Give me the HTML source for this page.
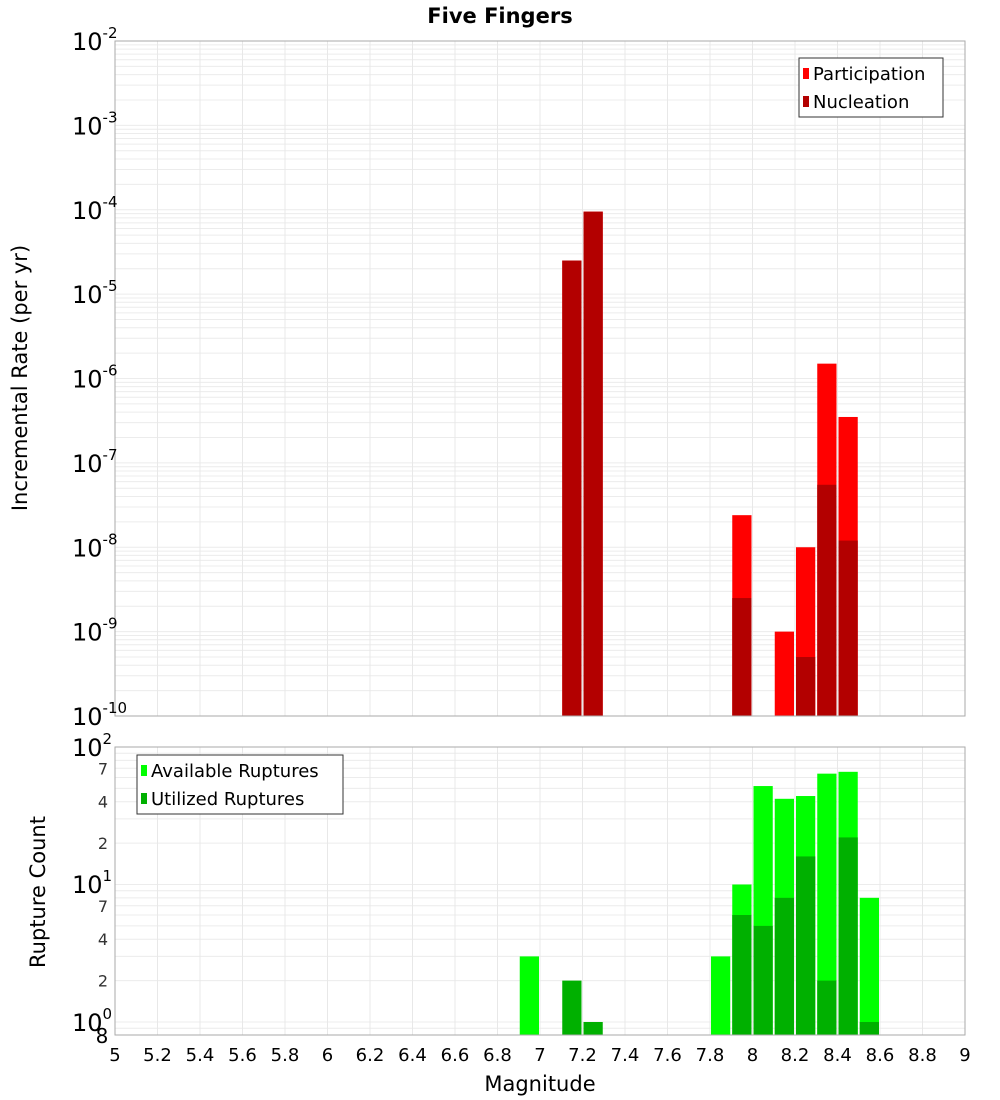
<!DOCTYPE html>
<html><head><meta charset="utf-8"><style>
body{margin:0;background:#fff;}
svg{display:block;font-family:"DejaVu Sans","Liberation Sans",sans-serif;}
</style></head><body>
<svg id="c" width="1000" height="1100" xmlns="http://www.w3.org/2000/svg">
<text x="500" y="23" text-anchor="middle" font-size="21" font-weight="bold">Five Fingers</text>
<g id="top"></g>
<g id="bot"></g>
<text x="540" y="1091" text-anchor="middle" font-size="21">Magnitude</text>
<text transform="translate(27,378) rotate(-90)" text-anchor="middle" font-size="21">Incremental Rate (per yr)</text>
<text transform="translate(45,892) rotate(-90)" text-anchor="middle" font-size="21">Rupture Count</text>
</svg>
<script>
const mags=[6.9,7.1,7.2,7.8,7.9,8.0,8.1,8.2,8.3,8.4,8.5];
const topMags=[7.1,7.2,7.9,8.1,8.2,8.3,8.4];
const participation=[2.5e-5,9.5e-5,2.4e-8,1e-9,1e-8,1.5e-6,3.5e-7];
const nucleation=[2.5e-5,9.5e-5,2.5e-9,0,5e-10,5.5e-8,1.2e-8];
const available=[3,0,0,3,10,52,42,44,64,66,8];
const utilized=[0,2,1,0,6,5,8,16,2,22,1];
const xTicks=[5,5.2,5.4,5.6,5.8,6,6.2,6.4,6.6,6.8,7,7.2,7.4,7.6,7.8,8,8.2,8.4,8.6,8.8,9];
const topExps=[-2,-3,-4,-5,-6,-7,-8,-9,-10];

const NS="http://www.w3.org/2000/svg";
const svg=document.getElementById('c');
const gT=document.getElementById('top'), gB=document.getElementById('bot');
function mk(tag,attrs,parent){const e=document.createElementNS(NS,tag);for(const k in attrs)e.setAttribute(k,attrs[k]);parent.appendChild(e);return e;}
const X0=115,X1=965;
const x=m=>X0+(m-5)/4*(X1-X0);
const TY0=41,TY1=716;
const yT=v=>TY0+(-2-Math.log10(v))/8*(TY1-TY0);
const BY0=747,BY1=1035;
const yB=v=>1022-Math.log10(v)*137.5;

// top grid
for(let e=-10;e<-2;e++)for(let k=1;k<10;k++){const yy=yT(k*Math.pow(10,e));const l=mk('line',{x1:X0,x2:X1,y1:yy,y2:yy,stroke:'#ececec','stroke-width':1},gT);

}
for(const t of xTicks){const l=mk('line',{x1:x(t),x2:x(t),y1:TY0,y2:TY1,stroke:'#e8e8e8'},gT);

}
// bottom grid
for(let e=-1;e<2;e++)for(let k=1;k<10;k++){const v=k*Math.pow(10,e);const yy=yB(v);if(yy<BY0||yy>BY1)continue;const l=mk('line',{x1:X0,x2:X1,y1:yy,y2:yy,stroke:'#ececec'},gB);

}
for(const t of xTicks){const l=mk('line',{x1:x(t),x2:x(t),y1:BY0,y2:BY1,stroke:'#e8e8e8'},gB);

}

function bar(g,m,v,yf,base,color,name){if(!v)return;const x0=x(m)+1,x1=x(m+0.1)-1;const yy=yf(v);const r=mk('rect',{x:x0,y:yy,width:x1-x0,height:base-yy,fill:color},g);

}
topMags.forEach((m,i)=>bar(gT,m,participation[i],yT,TY1,'#ff0000','participation-bar'));
topMags.forEach((m,i)=>bar(gT,m,nucleation[i],yT,TY1,'#b30000','nucleation-bar'));
mags.forEach((m,i)=>bar(gB,m,available[i],yB,BY1,'#00ff00','available-bar'));
mags.forEach((m,i)=>bar(gB,m,utilized[i],yB,BY1,'#00b000','utilized-bar'));

mk('rect',{x:X0,y:TY0,width:X1-X0,height:TY1-TY0,fill:'none',stroke:'#aaa'},gT);
mk('rect',{x:X0,y:BY0,width:X1-X0,height:BY1-BY0,fill:'none',stroke:'#aaa'},gB);

// top y labels
for(const e of topExps){const yy=yT(Math.pow(10,e));const t=mk('text',{x:72,y:yy+9,'font-size':24},gT);t.innerHTML='10<tspan dy="-12" font-size="15">'+e+'</tspan>';

}
// bottom y labels
[[2,747],[1,884],[0,1022]].forEach(([e,yy])=>{const t=mk('text',{x:72,y:yy+9,'font-size':24},gB);t.innerHTML='10<tspan dy="-12" font-size="15">'+e+'</tspan>';

});
[[7,70],[4,40],[2,20],[7,7],[4,4],[2,2]].forEach(([lab,v])=>{const t=mk('text',{x:103,y:yB(v)+6,'font-size':16,'text-anchor':'middle',fill:'#333'},gB);t.textContent=lab;

});
{const t=mk('text',{x:102,y:1043,'font-size':20,'text-anchor':'middle'},gB);t.textContent='8';

}
// x labels
for(const tk of xTicks){const t=mk('text',{x:x(tk),y:1061,'font-size':18,'text-anchor':'middle'},gB);t.textContent=String(tk);

}

// legends
function legend(g,bx,by,w,items,name){const lg=mk('g',{},g);


mk('rect',{x:bx,y:by,width:w,height:59,fill:'#fff',stroke:'#333'},lg);
items.forEach(([lab,c],i)=>{mk('rect',{x:bx+4,y:by+10+i*28,width:6,height:11,fill:c},lg);const t=mk('text',{x:bx+14,y:by+22+i*28,'font-size':18},lg);t.textContent=lab;});}
legend(gT,799,58,144,[['Participation','#ff0000'],['Nucleation','#b30000']],'top-legend');
legend(gB,137,755,206,[['Available Ruptures','#00ff00'],['Utilized Ruptures','#00b000']],'bottom-legend');
</script>
</body></html>
